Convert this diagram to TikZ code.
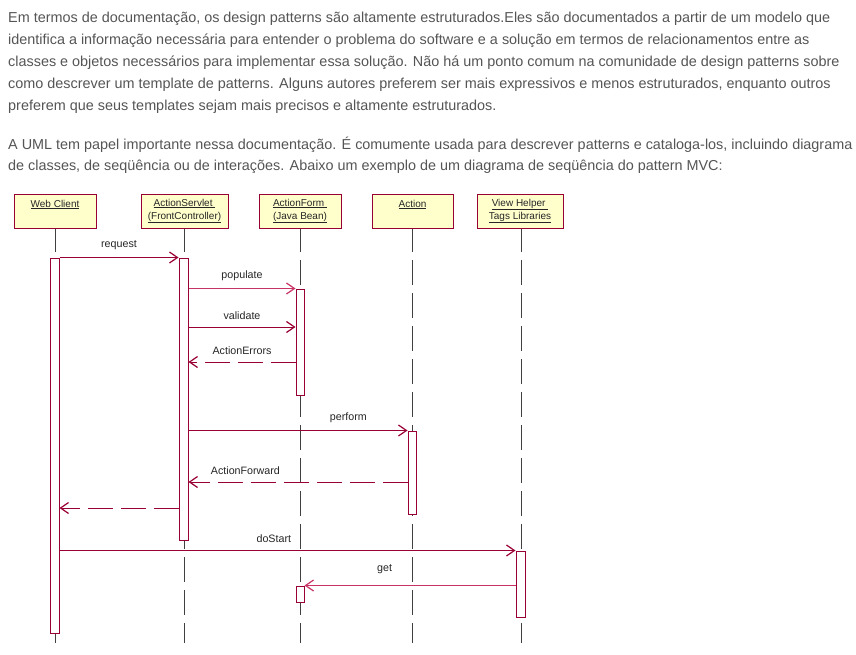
\documentclass[tikz,border=0pt]{standalone}
\usepackage{fontspec}
\setmainfont{Liberation Sans}
\usetikzlibrary{arrows.meta}
\definecolor{crim}{RGB}{153,0,51}
\definecolor{pinkc}{RGB}{200,50,100}
\definecolor{boxfill}{RGB}{255,255,204}
\definecolor{para}{RGB}{85,85,85}
\tikzset{
  x=1pt,y=-1pt,
  ptext/.style={anchor=west,inner sep=0pt,text=para,font=\fontsize{14.4}{16}\selectfont},
  objbox/.style={draw=crim,fill=boxfill,line width=1pt,inner sep=0pt},
  objtext/.style={inner sep=0pt,align=center,font=\fontsize{10}{13}\selectfont,text=black!85},
  life/.style={draw=black!75,line width=1pt},
  lifedash/.style={draw=black!75,line width=1pt,dash pattern=on 25pt off 8pt},
  act/.style={draw=crim,fill=white,line width=1pt,inner sep=0pt},
  msg/.style={draw=crim,line width=1pt,-{Straight Barb[length=8pt,width=11pt,line width=1.2pt]}},
  pmsg/.style={msg,draw=pinkc},
  ret/.style={msg,dash pattern=on 25pt off 8pt},
  mlabel/.style={inner sep=0pt,font=\fontsize{10.7}{12}\selectfont,text=black!85},
}
\begin{document}
\begin{tikzpicture}
\useasboundingbox (0,0) rectangle (856,655);
\fill[white] (0,0) rectangle (856,655);
% paragraph
\node[ptext] (p1) at (8,19) {Em termos de documentação, os design patterns são altamente estruturados.Eles são documentados a partir de um modelo que};
\node[ptext] (p2) at (8,41) {identifica a informação necessária para entender o problema do software e a solução em termos de relacionamentos entre as};
\node[ptext] (p3) at (8,63) {classes e objetos necessários para implementar essa solução. Não há um ponto comum na comunidade de design patterns sobre};
\node[ptext] (p4) at (8,85) {como descrever um template de patterns. Alguns autores preferem ser mais expressivos e menos estruturados, enquanto outros};
\node[ptext] (p5) at (8,107) {preferem que seus templates sejam mais precisos e altamente estruturados.};
\node[ptext] (q1) at (8,145) {A UML tem papel importante nessa documentação. É comumente usada para descrever patterns e cataloga-los, incluindo diagrama};
\node[ptext] (q2) at (8,167) {de classes, de seqüência ou de interações. Abaixo um exemplo de um diagrama de seqüência do pattern MVC:};

% lifelines
\foreach \x/\n in {55/wc,184/as,300/af,412/ac,521/vh}{
  \draw[life] (\x,228) -- (\x,252);
  \draw[lifedash] (\x,260) -- (\x,643);
}

% object boxes
\node[objbox,minimum width=82pt,minimum height=33pt] (wc) at (55,211.5) {};
\node[objbox,minimum width=87pt,minimum height=33pt] (as) at (184.5,211.5) {};
\node[objbox,minimum width=82pt,minimum height=33pt] (af) at (300,211.5) {};
\node[objbox,minimum width=81pt,minimum height=33pt] (ac) at (412.5,211.5) {};
\node[objbox,minimum width=86pt,minimum height=33pt] (vh) at (520,211.5) {};
\node[objtext] (wct) at (55,204.5) {\underline{Web Client}};
\node[objtext] (ast) at (184.5,211) {\underline{ActionServlet\ }\\\underline{(FrontController)}};
\node[objtext] (aft) at (300,211) {\underline{ActionForm\ }\\\underline{(Java Bean)}};
\node[objtext] (act) at (412.5,204.5) {\underline{Action}};
\node[objtext] (vht) at (520,211) {\underline{View Helper\ }\\\underline{Tags Libraries}};

% activation bars
\node[act,minimum width=9pt,minimum height=375pt] (wcA) at (54.5,445.5) {};
\node[act,minimum width=9pt,minimum height=282pt] (asA) at (183.5,399) {};
\node[act,minimum width=8pt,minimum height=106pt] (afA) at (300,342) {};
\node[act,minimum width=8pt,minimum height=83pt] (acA) at (412,472.5) {};
\node[act,minimum width=9pt,minimum height=66pt] (vhA) at (520.5,584) {};
\node[act,minimum width=8pt,minimum height=16pt] (afB) at (300,594) {};

% message anchor points
\coordinate (v1) at (afA.west |- 0,327);
\coordinate (e1) at (afA.west |- 0,362);
\coordinate (f1) at (acA.west |- 0,482);
\coordinate (r1) at (asA.west |- 0,508);

% messages
\draw[msg] (wcA.north east) -- (asA.north west) node[mlabel,pos=0.5,above=7pt] (l1) {request};
\draw[pmsg] (asA.east |- afA.north) -- (afA.north west) node[mlabel,pos=0.5,above=7pt] (l2) {populate};
\draw[msg] (asA.east |- v1) -- (v1) node[mlabel,pos=0.5,above=7pt] (l3) {validate};
\draw[ret] (e1) -- (asA.east |- e1) node[mlabel,pos=0.5,above=7pt] (l4) {ActionErrors};
\draw[msg] (asA.east |- acA.north) -- (acA.north west) node[mlabel,pos=0.73,above=7pt] (l5) {perform};
\draw[ret] (f1) -- (asA.east |- f1) node[mlabel,pos=0.74,above=7pt] (l6) {ActionForward};
\draw[ret] (r1) -- (wcA.east |- r1);
\draw[msg] (wcA.east |- vhA.north) -- (vhA.north west) node[mlabel,pos=0.47,above=7pt] (l7) {doStart};
\draw[pmsg] (vhA.west |- afB.north) -- (afB.north east) node[mlabel,pos=0.62,above=11pt] (l8) {get};
\end{tikzpicture}
\end{document}
